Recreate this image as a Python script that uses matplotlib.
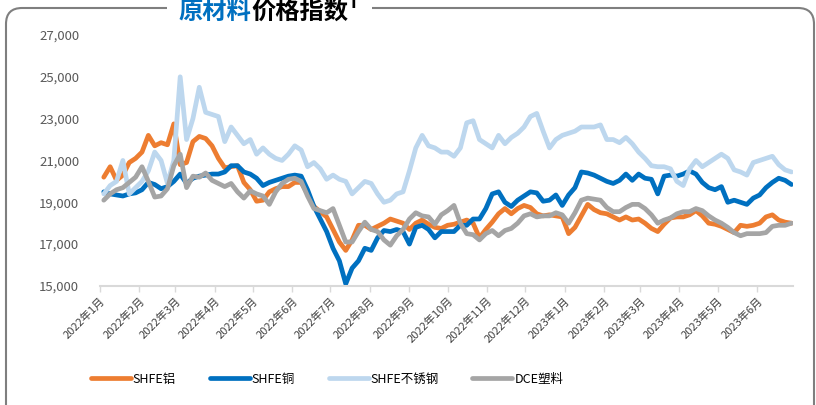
import numpy as np
import pandas as pd
import matplotlib
matplotlib.use("Agg")
import matplotlib.pyplot as plt
from matplotlib.patches import FancyBboxPatch, Rectangle
from matplotlib.transforms import IdentityTransform

plt.rcParams['font.family'] = ['Noto Sans CJK SC', 'DejaVu Sans']

# 取样日期（每5天一个读数）
dates = pd.date_range("2022-01-04", periods=109, freq="5D")

# SHFE铝
al = [20200, 20700, 20050, 20300, 20900, 21100, 21400, 22200, 21700, 21850,
      21750, 22750, 20800, 20900, 21900, 22150, 22050, 21700, 21100, 20650,
      20700, 20750, 19950, 19600, 19050, 19100, 19500, 19650, 19750, 19750,
      19950, 19950, 19400, 18800, 18550, 18300, 17700, 17100, 16700, 17200,
      17900, 17900, 17700, 17850, 18000, 18200, 18100, 18000, 17700, 18000,
      18150, 17950, 17800, 17750, 17900, 17950, 18050, 18150, 18000, 17300,
      17700, 18050, 18450, 18700, 18450, 18700, 18850, 18750, 18450, 18350,
      18400, 18350, 18300, 17500, 17800, 18350, 18900, 18650, 18500, 18450,
      18300, 18150, 18300, 18150, 18200, 18000, 17750, 17600, 17950, 18250,
      18300, 18300, 18400, 18600, 18350, 18000, 17950, 17850, 17700, 17550,
      17900, 17850, 17900, 18000, 18300, 18400, 18150, 18050, 18000]

# SHFE铜
cu = [19500, 19400, 19350, 19300, 19400, 19450, 19600, 19950, 19850, 19650,
      19750, 20000, 20350, 19900, 20150, 20250, 20300, 20350, 20350, 20450,
      20750, 20750, 20450, 20350, 20150, 19800, 19950, 20050, 20150, 20250,
      20300, 20250, 19600, 18800, 18200, 17600, 16800, 16200, 15100, 15850,
      16200, 16800, 16700, 17300, 17650, 17600, 17700, 17600, 17000, 17800,
      17900, 17700, 17300, 17600, 17600, 17600, 17900, 17900, 18200, 18200,
      18700, 19400, 19500, 19000, 18800, 19100, 19300, 19500, 19450, 19050,
      19100, 19350, 18850, 19350, 19700, 20450, 20400, 20300, 20150, 20000,
      19900, 20050, 20350, 20050, 20350, 20150, 20100, 19400, 20250, 20300,
      20250, 20350, 20500, 20350, 19950, 19700, 19600, 19750, 19000, 19100,
      19000, 18900, 19200, 19350, 19700, 19950, 20150, 20050, 19850]

# SHFE不锈钢
ss = [19400, 19800, 20000, 21000, 19400, 19700, 20000, 20500, 21400, 21000,
      19900, 21000, 25000, 22000, 23000, 24500, 23300, 23200, 23100, 21900,
      22600, 22200, 21800, 22000, 21300, 21600, 21300, 21100, 21000, 21300,
      21700, 21500, 20700, 20900, 20600, 20100, 20300, 20100, 20000, 19400,
      19700, 20000, 19900, 19400, 19000, 19100, 19400, 19500, 20500, 21600,
      22200, 21700, 21600, 21400, 21400, 21200, 21600, 22800, 22900, 22000,
      21800, 21600, 22200, 21800, 22100, 22300, 22600, 23100, 23250, 22400,
      21600, 22000, 22200, 22300, 22400, 22600, 22600, 22600, 22700, 22000,
      22000, 21850, 22100, 21800, 21400, 21100, 20750, 20700, 20700, 20600,
      20000, 19800, 20600, 21000, 20700, 20900, 21100, 21300, 21100, 20550,
      20450, 20300, 20900, 21000, 21100, 21200, 20800, 20550, 20450]

# DCE塑料
pl = [19100, 19400, 19600, 19700, 19950, 20200, 20700, 20000, 19250, 19300,
      19650, 20750, 21300, 19700, 20250, 20200, 20400, 20050, 19900, 19750,
      19900, 19500, 19200, 19550, 19400, 19300, 18900, 19500, 19900, 20100,
      20150, 20000, 19300, 18700, 18600, 18500, 18700, 17900, 17100, 17100,
      17600, 18050, 17700, 17600, 17200, 16950, 17400, 17700, 18200, 18500,
      18350, 18300, 17950, 18400, 18600, 18850, 18000, 17500, 17450, 17200,
      17500, 17650, 17400, 17650, 17750, 18000, 18350, 18450, 18300, 18350,
      18350, 18500, 18400, 18000, 18500, 19100, 19200, 19150, 19100, 18750,
      18550, 18550, 18750, 18900, 18900, 18700, 18400, 18000, 18150, 18250,
      18450, 18550, 18550, 18700, 18600, 18350, 18150, 18000, 17800, 17550,
      17400, 17500, 17500, 17500, 17550, 17850, 17900, 17900, 18000]

names = ['SHFE铝', 'SHFE铜', 'SHFE不锈钢', 'DCE塑料']
colors = ['#ED7D31', '#0070C0', '#BDD7EE', '#A5A5A5']

month_ticks = pd.date_range("2022-01-01", "2023-06-01", freq="MS")
month_labels = [f"{d.year}年{d.month}月" for d in month_ticks]

fig = plt.figure(figsize=(8.16, 4.05), dpi=100)
ax = fig.add_axes([0.1225, 0.294, 0.849, 0.6196])

for vals, name, c in zip([al, cu, ss, pl], names, colors):
    ax.plot(dates, vals, color=c, lw=3.4, label=name, solid_joinstyle='round',
            solid_capstyle='round')

ax.set_ylim(15000, 27000)
ax.set_yticks(range(15000, 27001, 2000))
ax.yaxis.set_major_formatter(matplotlib.ticker.FuncFormatter(lambda v, p: f"{int(v):,}"))
ax.set_xlim(pd.Timestamp("2022-01-01"), pd.Timestamp("2023-06-29"))
ax.set_xticks(month_ticks)
ax.set_xticklabels(month_labels, rotation=45, ha='right', rotation_mode='anchor',
                   fontsize=8, color='#404040')

for s in ['top', 'right', 'left']:
    ax.spines[s].set_visible(False)
ax.spines['bottom'].set_color('#D9D9D9')
ax.spines['bottom'].set_linewidth(1.5)
ax.tick_params(axis='y', length=0, labelsize=9.5, labelcolor='#595959', pad=15)
ax.tick_params(axis='x', length=4, color='#D9D9D9', width=1, pad=3)

fig.legend(loc='center', bbox_to_anchor=(327 / 816, 1 - 379 / 405), ncol=4,
           frameon=False, handlelength=3.2, handletextpad=0.15,
           columnspacing=2.7, prop={'size': 9})

# 外框
border = FancyBboxPatch((6, -40), 808, 437, boxstyle="round,pad=0,rounding_size=16",
                        transform=IdentityTransform(), facecolor='none',
                        edgecolor='#7F7F7F', lw=1.5, zorder=5)
fig.patches.append(border)
mask = Rectangle((167, 388), 205, 20, transform=IdentityTransform(),
                 facecolor='white', edgecolor='none', zorder=6)
fig.patches.append(mask)

fig.text(251 / 816, 1 - 12 / 405, '原材料', color='#0070C0', fontsize=17.5,
         fontweight='heavy', ha='right', va='center', zorder=7)
fig.text(251 / 816, 1 - 12 / 405, '价格指数¹', color='#000000', fontsize=17.5,
         fontweight='heavy', ha='left', va='center', zorder=7)

fig.savefig('out.png', dpi=100)
